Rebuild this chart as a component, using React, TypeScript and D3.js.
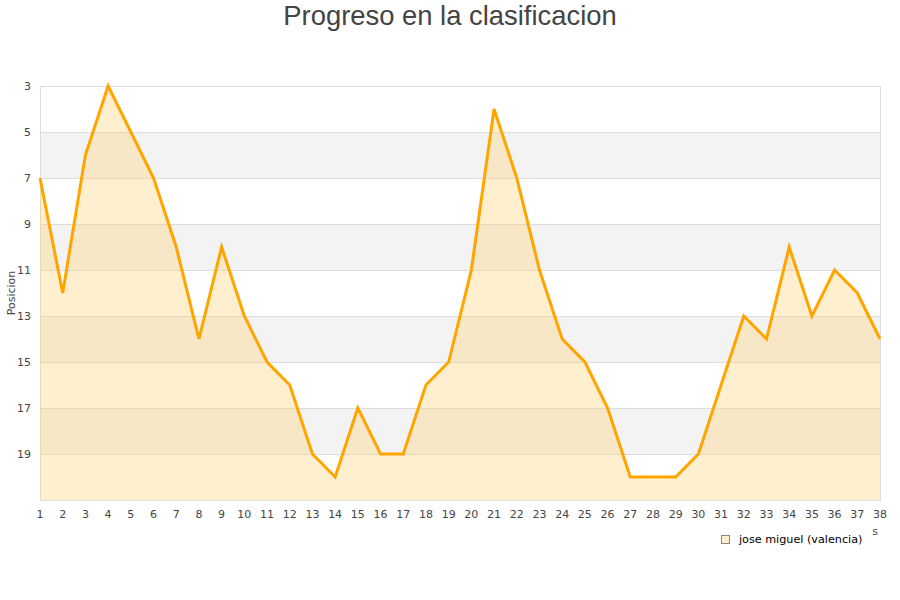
import { useEffect, useRef } from 'react';
import * as d3 from 'd3';

const rounds = d3.range(1, 39);
const positions = [7, 12, 6, 3, 5, 7, 10, 14, 10, 13, 15, 16, 19, 20, 17, 19, 19, 16, 15, 11, 4, 7, 11, 14, 15, 17, 20, 20, 20, 19, 16, 13, 14, 10, 13, 11, 12, 14];
const yTicks = [3, 5, 7, 9, 11, 13, 15, 17, 19];
const seriesName = 'jose miguel (valencia)';

export default function App() {
  const svgRef = useRef<SVGSVGElement | null>(null);

  useEffect(() => {
    if (!svgRef.current) return;
    const svg = d3.select(svgRef.current);
    svg.selectAll('*').remove();

    const width = 900;
    const height = 600;
    const margin = { top: 86, right: 20, bottom: 100, left: 40 };

    const x = d3.scaleLinear()
      .domain([1, 38])
      .range([margin.left, width - margin.right]);
    const y = d3.scaleLinear()
      .domain([3, 21])
      .range([margin.top, height - margin.bottom]);

    // alternating bands
    const bands = [5, 9, 13, 17];
    svg.append('g')
      .selectAll('rect')
      .data(bands)
      .join('rect')
      .attr('x', margin.left)
      .attr('width', x(38) - x(1))
      .attr('y', d => y(d))
      .attr('height', d => y(d + 2) - y(d))
      .attr('fill', '#f3f3f3');

    // grid lines
    svg.append('g')
      .selectAll('line')
      .data(yTicks)
      .join('line')
      .attr('x1', margin.left)
      .attr('x2', x(38))
      .attr('y1', d => y(d) + 0.5)
      .attr('y2', d => y(d) + 0.5)
      .attr('stroke', '#dddddd');

    // plot frame
    svg.append('rect')
      .attr('x', margin.left + 0.5)
      .attr('y', margin.top + 0.5)
      .attr('width', x(38) - x(1))
      .attr('height', y(21) - y(3))
      .attr('fill', 'none')
      .attr('stroke', '#dddddd');

    const pts = rounds.map((r, i) => [r, positions[i]] as [number, number]);

    const area = d3.area<[number, number]>()
      .x(d => x(d[0]))
      .y0(y(21))
      .y1(d => y(d[1]));
    svg.append('path')
      .datum(pts)
      .attr('d', area)
      .attr('fill', 'rgba(255, 204, 102, 0.32)');

    const line = d3.line<[number, number]>()
      .x(d => x(d[0]))
      .y(d => y(d[1]));
    svg.append('path')
      .datum(pts)
      .attr('d', line)
      .attr('fill', 'none')
      .attr('stroke', '#ffa500')
      .attr('stroke-width', 3)
      .attr('stroke-linejoin', 'miter');

    const font = '"DejaVu Sans", sans-serif';

    // y ticks
    svg.append('g')
      .selectAll('text')
      .data(yTicks)
      .join('text')
      .attr('x', 31)
      .attr('y', d => y(d) + 4)
      .attr('text-anchor', 'end')
      .attr('font-family', font)
      .attr('font-size', 11)
      .attr('fill', '#444')
      .text(d => d);

    // x ticks
    svg.append('g')
      .selectAll('text')
      .data(rounds)
      .join('text')
      .attr('x', d => x(d))
      .attr('y', 518)
      .attr('text-anchor', 'middle')
      .attr('font-family', font)
      .attr('font-size', 11)
      .attr('fill', '#444')
      .text(d => d);

    // axis titles
    svg.append('text')
      .attr('transform', `translate(15, ${(y(3) + y(21)) / 2}) rotate(-90)`)
      .attr('text-anchor', 'middle')
      .attr('font-family', font)
      .attr('font-size', 11)
      .attr('fill', '#444')
      .text('Posicion');

    // the visible tail of the (mostly hidden) x-axis title
    svg.append('text')
      .attr('x', 878)
      .attr('y', 535)
      .attr('text-anchor', 'end')
      .attr('font-family', font)
      .attr('font-size', 11)
      .attr('fill', '#444')
      .text('s');

    // legend
    const legend = svg.append('g').attr('transform', 'translate(714, 527)');
    legend.append('rect')
      .attr('x', 7.5)
      .attr('y', 8.5)
      .attr('width', 8)
      .attr('height', 8)
      .attr('fill', '#ffeecc')
      .attr('stroke', '#888');
    legend.append('text')
      .attr('x', 25)
      .attr('y', 16)
      .attr('font-family', font)
      .attr('font-size', 11.2)
      .attr('fill', '#000')
      .text(seriesName);

    // title
    svg.append('text')
      .attr('x', width / 2)
      .attr('y', 25)
      .attr('text-anchor', 'middle')
      .attr('font-family', '"Liberation Sans", Arial, sans-serif')
      .attr('font-size', 27.4)
      .attr('fill', '#444')
      .text('Progreso en la clasificacion');
  }, []);

  return (
    <svg
      ref={svgRef}
      width={900}
      height={600}
      style={{ position: 'absolute', left: 0, top: 0, background: '#fff' }}
    />
  );
}
